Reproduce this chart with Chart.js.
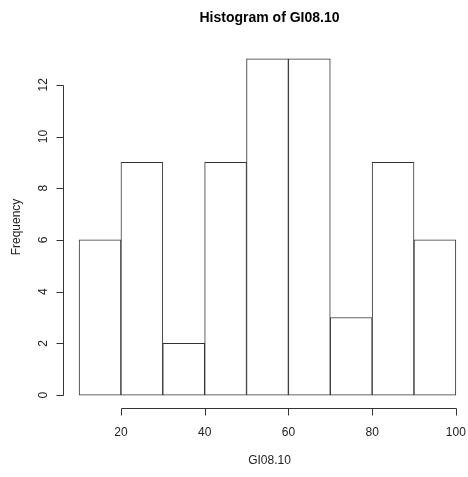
<!DOCTYPE html>
<html>
<head>
<meta charset="utf-8">
<script src="https://cdn.jsdelivr.net/npm/chart.js@4"></script>
<style>
  html, body { margin: 0; padding: 0; background: #fff; }
  #wrap { width: 468px; height: 477px; }
</style>
</head>
<body>
<div id="wrap"><canvas id="hist" width="468" height="477"></canvas></div>
<script>
// histogram bins (break points) and counts
const binStarts = [10, 20, 30, 40, 50, 60, 70, 80, 90];
const binWidth = 10;
const counts = [6, 9, 2, 9, 13, 13, 3, 9, 6];
const xTicks = [20, 40, 60, 80, 100];
const yTicks = [0, 2, 4, 6, 8, 10, 12];

const FONT = '"Liberation Sans", Arial, sans-serif';

// R-style axes, drawn off the plot region
const rAxes = {
  id: 'rAxes',
  afterDraw(chart) {
    const ctx = chart.ctx;
    const xs = chart.scales.x, ys = chart.scales.y;
    const area = chart.chartArea;
    ctx.save();
    ctx.strokeStyle = '#333';
    ctx.fillStyle = '#222';
    ctx.lineWidth = 1;

    // x axis
    const xAxisY = Math.round(area.bottom) + 0.5;
    ctx.beginPath();
    ctx.moveTo(Math.round(xs.getPixelForValue(xTicks[0])) + 0.5, xAxisY);
    ctx.lineTo(Math.round(xs.getPixelForValue(xTicks[xTicks.length - 1])) + 0.5, xAxisY);
    xTicks.forEach(v => {
      const px = Math.round(xs.getPixelForValue(v)) + 0.5;
      ctx.moveTo(px, xAxisY);
      ctx.lineTo(px, xAxisY + 7);
    });
    ctx.stroke();
    ctx.font = '12px ' + FONT;
    ctx.textAlign = 'center';
    ctx.textBaseline = 'middle';
    xTicks.forEach(v => {
      ctx.fillText(String(v), xs.getPixelForValue(v), xAxisY + 24);
    });

    // y axis
    const yAxisX = Math.round(area.left) - 0.5;
    ctx.beginPath();
    ctx.moveTo(yAxisX, Math.round(ys.getPixelForValue(yTicks[0])) + 0.5);
    ctx.lineTo(yAxisX, Math.round(ys.getPixelForValue(yTicks[yTicks.length - 1])) + 0.5);
    yTicks.forEach(v => {
      const py = Math.round(ys.getPixelForValue(v)) + 0.5;
      ctx.moveTo(yAxisX, py);
      ctx.lineTo(yAxisX - 7, py);
    });
    ctx.stroke();
    yTicks.forEach(v => {
      ctx.save();
      ctx.translate(yAxisX - 20, ys.getPixelForValue(v));
      ctx.rotate(-Math.PI / 2);
      ctx.fillText(String(v), 0, 0);
      ctx.restore();
    });

    // titles
    const midX = (area.left + area.right + 7) / 2;
    ctx.font = 'bold 14px ' + FONT;
    ctx.fillStyle = '#000';
    ctx.fillText('Histogram of GI08.10', midX, 18);

    ctx.font = '12px ' + FONT;
    ctx.fillStyle = '#222';
    ctx.fillText('GI08.10', midX, 461);

    ctx.save();
    ctx.translate(17, (area.top + area.bottom) / 2);
    ctx.rotate(-Math.PI / 2);
    ctx.fillText('Frequency', 0, 0);
    ctx.restore();

    ctx.restore();
  }
};

const ctx = document.getElementById('hist').getContext('2d');
new Chart(ctx, {
  type: 'bar',
  data: {
    datasets: [{
      data: binStarts.map((s, i) => ({ x: s + binWidth / 2, y: counts[i] })),
      backgroundColor: '#fff',
      borderColor: '#333',
      borderWidth: 1,
      borderSkipped: false,
      barPercentage: 1,
      categoryPercentage: 1
    }]
  },
  options: {
    responsive: false,
    animation: false,
    layout: { padding: { left: 64, right: 0, top: 46, bottom: 69 } },
    plugins: { legend: { display: false }, tooltip: { enabled: false } },
    scales: {
      x: { type: 'linear', min: 6.4, max: 102.9, offset: false, display: false },
      y: { min: -0.5, max: 13.5, display: false }
    }
  },
  plugins: [rAxes]
});
</script>
</body>
</html>
